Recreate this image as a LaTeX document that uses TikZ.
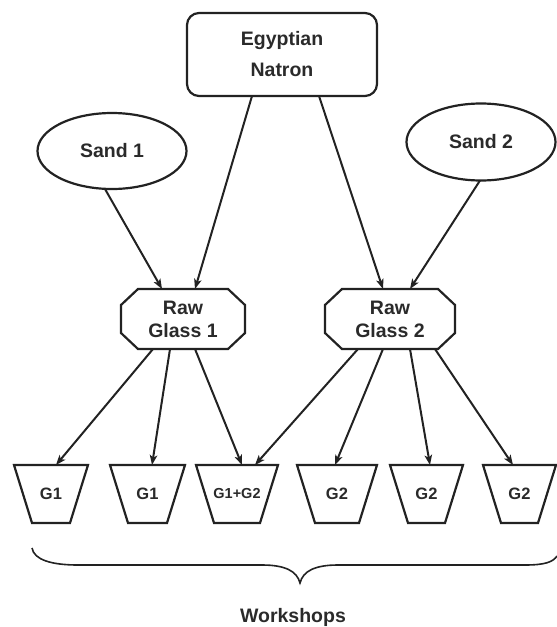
\documentclass[tikz,border=0pt]{standalone}
\usepackage{fontspec}
\setmainfont{Liberation Sans}
\usetikzlibrary{shapes.geometric,calc,arrows.meta}
\definecolor{ink}{HTML}{222222}
\definecolor{txt}{HTML}{2A2A2A}
\begin{document}
\begin{tikzpicture}[x=1pt,y=-1pt,
  outline/.style={draw=ink,line width=2.2pt},
  lbl/.style={text=txt,font=\bfseries\fontsize{19.5}{23}\selectfont,align=center,inner sep=0pt,outer sep=0pt},
  small/.style={text=txt,font=\bfseries\fontsize{16.5}{20}\selectfont,inner sep=0pt,outer sep=0pt,minimum height=58pt},
  conn/.style={draw=ink,line width=2pt,-{Stealth[length=10pt,width=7.5pt,inset=2.5pt]}},
  brace/.style={draw=ink,line width=1.6pt}]
\useasboundingbox (0,0) rectangle (557,627);

% top level
\node[outline,lbl,rounded corners=12pt,minimum width=190pt,minimum height=83pt] (natron) at (282,54.5) {Egyptian\\[8pt]Natron};
\node[outline,lbl,ellipse,minimum width=149pt,minimum height=76pt] (sand1) at (112,151) {Sand 1};
\node[outline,lbl,ellipse,minimum width=149pt,minimum height=77pt] (sand2) at (481,142) {Sand 2};

% raw glass
\node[lbl,minimum width=124pt,minimum height=60pt] (rg1) at (183,319) {Raw\\Glass 1};
\node[lbl,minimum width=130pt,minimum height=60pt] (rg2) at (390,319) {Raw\\Glass 2};
\foreach \n in {rg1,rg2}
  \draw[outline] ($(\n.north west)+(17,0)$) -- ($(\n.north east)+(-17,0)$) -- ($(\n.north east)+(0,16)$)
    -- ($(\n.south east)+(0,-16)$) -- ($(\n.south east)+(-17,0)$) -- ($(\n.south west)+(17,0)$)
    -- ($(\n.south west)+(0,-16)$) -- ($(\n.north west)+(0,16)$) -- cycle;

% workshops (trapezoids)
\node[small,minimum width=74pt] (g1a) at (51,494) {G1};
\node[small,minimum width=75pt] (g1b) at (147.5,494) {G1};
\node[small,minimum width=82pt,font=\bfseries\fontsize{14.5}{17}\selectfont] (g12) at (237,494) {G1+G2};
\node[small,minimum width=80pt] (g2a) at (337,494) {G2};
\node[small,minimum width=73pt] (g2b) at (426.5,494) {G2};
\node[small,minimum width=73pt] (g2c) at (519.5,494) {G2};
\foreach \n in {g1a,g1b,g12,g2a,g2b,g2c}
  \draw[outline] (\n.north west) -- (\n.north east) -- ($(\n.south east)+(-18,0)$) -- ($(\n.south west)+(18,0)$) -- cycle;

% connectors
\draw[conn] ($(sand1.south)+(-7,0)$) -- ($(rg1.north)+(-21,0)$);
\draw[conn] ($(natron.south)+(-30,0)$) -- ($(rg1.north)+(12,0)$);
\draw[conn] ($(natron.south)+(37,0)$) -- ($(rg2.north)+(-7,0)$);
\draw[conn] ($(sand2.south)+(-1,0)$) -- ($(rg2.north)+(20,0)$);

\draw[conn] ($(rg1.south)+(-30,0)$) -- ($(g1a.north)+(5,0)$);
\draw[conn] ($(rg1.south)+(-13,0)$) -- ($(g1b.north)+(4.5,0)$);
\draw[conn] ($(rg1.south)+(12,0)$) -- ($(g12.north)+(5,0)$);
\draw[conn] ($(rg2.south)+(-32,0)$) -- ($(g12.north)+(18,0)$);
\draw[conn] ($(rg2.south)+(-7,0)$) -- ($(g2a.north)+(-2,0)$);
\draw[conn] ($(rg2.south)+(20,0)$) -- ($(g2b.north)+(3.5,0)$);
\draw[conn] ($(rg2.south)+(45,0)$) -- ($(g2c.north)+(-6.5,0)$);

% brace
\coordinate (bl) at (32,548);
\coordinate (bt) at (300,583);
\coordinate (br) at (557,556);
\draw[brace] (bl) .. controls (34,560) and (52,565) .. (78,565) -- (262,565)
  .. controls (285,565) and (297,571) .. (bt)
  .. controls (303,571) and (315,565) .. (338,565) -- (525,565)
  .. controls (545,565) and (553,562) .. (br);
\node[lbl,anchor=base] (ws) at (293,622) {Workshops};
\end{tikzpicture}
\end{document}
